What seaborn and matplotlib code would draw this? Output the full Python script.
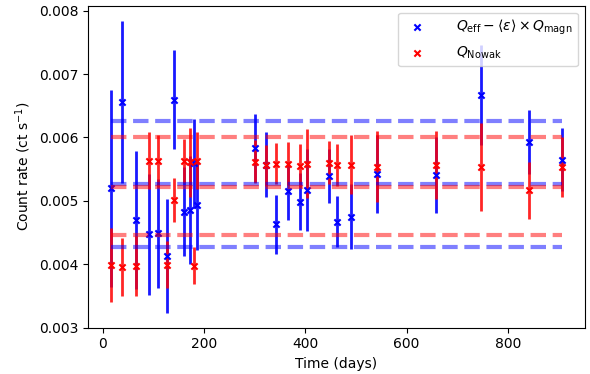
import numpy as np
import pandas as pd
import matplotlib
matplotlib.use("Agg")
import matplotlib.pyplot as plt
import seaborn as sns

# Time of each observation (days)
days = [15.8, 38.8, 67.0, 91.4, 108.5, 127.0, 140.7, 160.5, 173.6, 180.2, 185.5,
        300.6, 321.7, 342.7, 366.4, 388.8, 402.7, 446.0, 462.5, 490.0, 541.5,
        657.0, 746.7, 842.0, 907.3]

# Q_eff - <eps> x Q_magn (blue)
q_eff = [0.005195, 0.006559, 0.004696, 0.004471, 0.004487, 0.004130, 0.006597,
         0.004827, 0.004860, 0.005595, 0.004932, 0.005835, 0.005573, 0.004628,
         0.005157, 0.004984, 0.005168, 0.005389, 0.004669, 0.004748, 0.005423,
         0.005405, 0.006665, 0.005929, 0.005652]
q_eff_err = [0.00156, 0.00128, 0.00109, 0.00095, 0.00086, 0.00090, 0.00078,
             0.00070, 0.00085, 0.00070, 0.00071, 0.00053, 0.00051, 0.00046,
             0.00046, 0.00045, 0.00065, 0.00043, 0.00040, 0.00051, 0.00062,
             0.00060, 0.00079, 0.00051, 0.00049]

# Q_Nowak (red)
q_nowak = [0.003987, 0.003961, 0.003976, 0.005630, 0.005630, 0.003995, 0.005011,
           0.005628, 0.005605, 0.003976, 0.005630, 0.005614, 0.005562, 0.005589,
           0.005589, 0.005551, 0.005589, 0.005598, 0.005562, 0.005573, 0.005535,
           0.005562, 0.005535, 0.005168, 0.005535]
q_nowak_err = [0.00058, 0.00046, 0.00047, 0.00045, 0.00041, 0.00037, 0.00035,
               0.00034, 0.00054, 0.00029, 0.00045, 0.00034, 0.00032, 0.00032,
               0.00034, 0.00034, 0.00055, 0.00034, 0.00033, 0.00047, 0.00056,
               0.00054, 0.00069, 0.00045, 0.00047]

# Reference levels (mean and +/- spread)
eff_levels = [0.004270, 0.005258, 0.006255]
nowak_levels = [0.004455, 0.005220, 0.006003]

label_eff = r"$Q_{\rm eff} - \langle\varepsilon\rangle \times Q_{\rm magn}$"
label_nowak = r"$Q_{\rm Nowak}$"

df = pd.DataFrame({"days": days, "q_eff": q_eff, "q_eff_err": q_eff_err,
                   "q_nowak": q_nowak, "q_nowak_err": q_nowak_err})

fig, ax = plt.subplots(figsize=(5.9, 3.74), dpi=100)
fig.subplots_adjust(left=0.149, right=0.9915, top=0.985, bottom=0.124)

ax.errorbar(df["days"], df["q_eff"], yerr=df["q_eff_err"], fmt="none",
            ecolor="blue", elinewidth=2, alpha=0.9, zorder=2)
ax.errorbar(df["days"], df["q_nowak"], yerr=df["q_nowak_err"], fmt="none",
            ecolor="red", elinewidth=2, alpha=0.85, zorder=2)

sns.scatterplot(data=df, x="days", y="q_eff", marker="x", color="blue",
                s=20, linewidth=1.5, label=label_eff, ax=ax, zorder=3)
sns.scatterplot(data=df, x="days", y="q_nowak", marker="x", color="red",
                s=20, linewidth=1.5, label=label_nowak, ax=ax, zorder=3)

xmin, xmax = min(days), max(days)
ax.hlines(eff_levels, xmin, xmax, colors="blue", linestyles="--",
          linewidth=3, alpha=0.5, zorder=4)
ax.hlines(nowak_levels, xmin, xmax, colors="red", linestyles="--",
          linewidth=3, alpha=0.5, zorder=4)

ax.set_xlim(-28.8, 951.9)
ax.set_ylim(0.003, 0.00808)
ax.set_yticks([0.003, 0.004, 0.005, 0.006, 0.007, 0.008])
ax.set_xticks([0, 200, 400, 600, 800])
ax.set_xlabel("Time (days)")
ax.set_ylabel(r"Count rate (ct s$^{-1}$)")
ax.legend(loc="upper right", fontsize=10, handletextpad=1.8)

fig.savefig("out.png", dpi=100)
